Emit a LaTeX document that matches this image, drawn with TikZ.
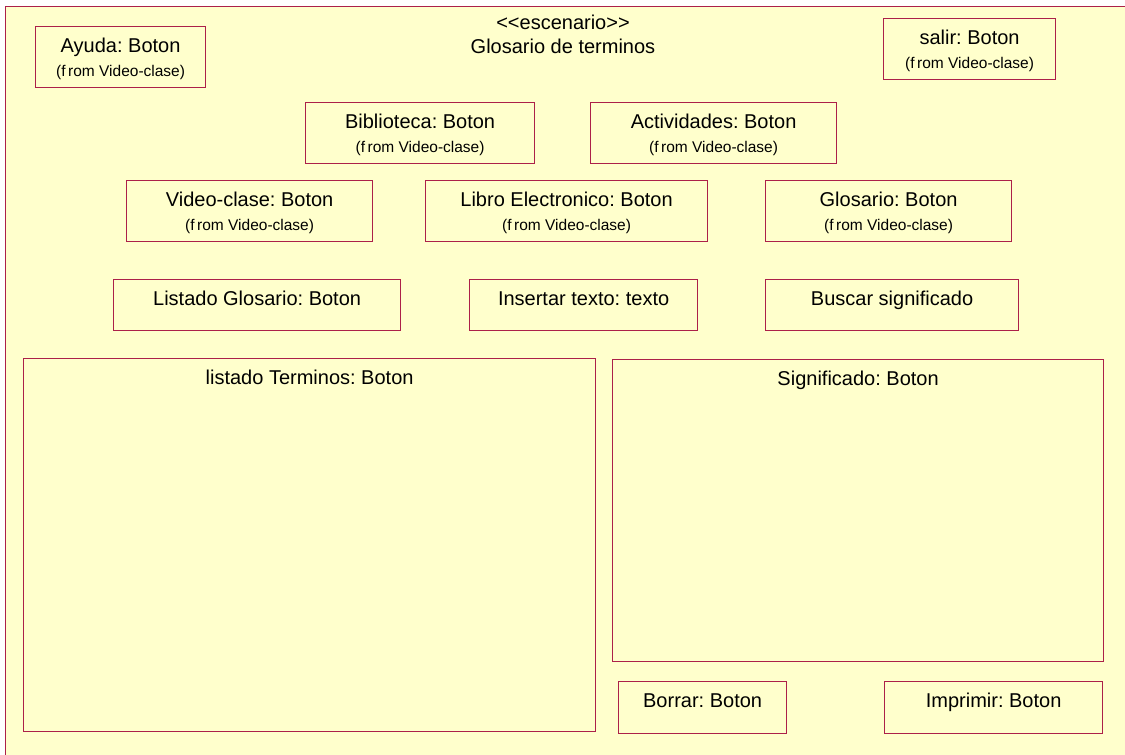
\documentclass[tikz,border=0pt]{standalone}
\usepackage{fontspec}
\setmainfont{Liberation Sans}
\frenchspacing
\definecolor{paper}{HTML}{FFFFCC}
\definecolor{edge}{HTML}{AC2049}
\tikzset{
  uibox/.style={draw=edge, fill=paper, line width=1.2pt, inner sep=0pt, anchor=north west},
  mainlbl/.style={font=\fontsize{20}{23}\selectfont, inner sep=0pt, anchor=base},
  fromlbl/.style={font=\fontsize{15.5}{18}\selectfont, inner sep=0pt, anchor=base},
}
% a button box given by its top-left corner and its size (in px)
\newcommand{\uibutton}[6]{%
  \node[uibox, minimum width=#4pt, minimum height=#5pt] (#1) at (#2,#3) {};
  \node[mainlbl] (#1-t) at ([yshift=-26pt]#1.north) {#6};
}
\newcommand{\fromline}[1]{%
  \node[fromlbl] (#1-f) at ([yshift=-50pt]#1.north) {(f\kern2.5pt rom Video-clase)};
}
\begin{document}
\begin{tikzpicture}[x=1pt, y=-1pt]
  \useasboundingbox (0,0) rectangle (1125,755);
  \clip (0,0) rectangle (1125,755);
  \fill[white] (0,0) rectangle (1125,755);
  % scenario frame, running past the right and bottom edges
  \node[uibox, minimum width=1150pt, minimum height=780pt] (frame) at (5,6) {};
  \node[mainlbl] (stereo) at (563,29) {{<}{<}escenario{>}{>}};
  \node[mainlbl] (title) at (563,53) {Glosario de terminos};

  \uibutton{ayuda}{35}{26}{170}{61}{Ayuda: Boton}\fromline{ayuda}
  \uibutton{salir}{883}{18}{172}{61}{salir: Boton}\fromline{salir}
  \uibutton{biblio}{305}{102}{229}{61}{Biblioteca: Boton}\fromline{biblio}
  \uibutton{activ}{590}{102}{246}{61}{Actividades: Boton}\fromline{activ}
  \uibutton{video}{126}{180}{246}{61}{Video-clase: Boton}\fromline{video}
  \uibutton{libro}{425}{180}{282}{61}{Libro Electronico: Boton}\fromline{libro}
  \uibutton{glos}{765}{180}{246}{61}{Glosario: Boton}\fromline{glos}

  \uibutton{listglos}{113}{279}{287}{51}{Listado Glosario: Boton}
  \uibutton{insert}{469}{279}{228}{51}{Insertar texto: texto}
  \uibutton{buscar}{765}{279}{253}{51}{Buscar significado}

  \uibutton{listterm}{23}{358}{572}{373}{listado Terminos: Boton}
  \uibutton{signif}{612}{359}{491}{302}{Significado: Boton}

  \uibutton{borrar}{618}{681}{168}{52}{Borrar: Boton}
  \uibutton{imprimir}{884}{681}{218}{52}{Imprimir: Boton}
\end{tikzpicture}
\end{document}
